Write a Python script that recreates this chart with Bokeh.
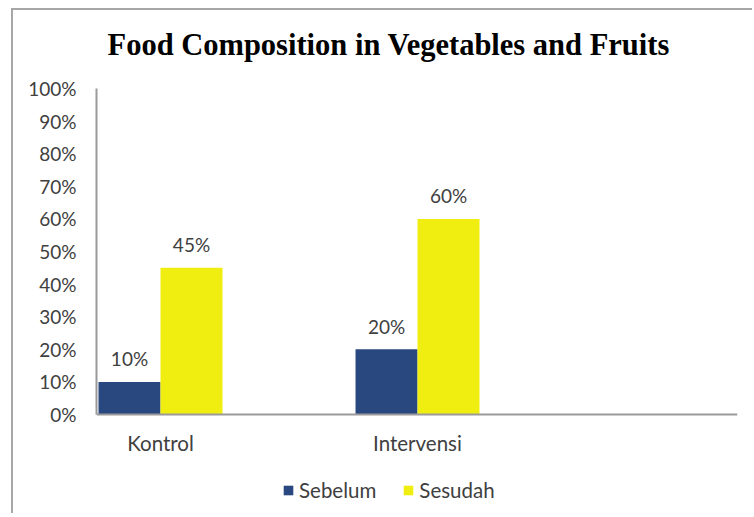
from bokeh.plotting import figure
from bokeh.models import (ColumnDataSource, Legend, LegendItem, FixedTicker,
                          PrintfTickFormatter, Range1d)
from bokeh.core.properties import value
from bokeh.embed import file_html
from bokeh.resources import INLINE

# ---- data ----
categories = ["Kontrol", "Intervensi"]
series_names = ["Sebelum", "Sesudah"]
sebelum = [10, 20]
sesudah = [45, 60]
y_ticks = [0, 10, 20, 30, 40, 50, 60, 70, 80, 90, 100]
title_text = "Food Composition in Vegetables and Fruits"

BLUE = "#28487f"
YELLOW = "#f0ee10"
TXT = "#404040"
FONT = "Lato"

xs = list(range(len(categories)))
bw = 0.2412
off = 0.1206

src_a = ColumnDataSource(dict(x=[x - off for x in xs], top=sebelum,
                              lab=[f"{v}%" for v in sebelum]))
src_b = ColumnDataSource(dict(x=[x + off for x in xs], top=sesudah,
                              lab=[f"{v}%" for v in sesudah]))

# frame extends above 100 and below the 0 line (legend sits inside it);
# the y axis line is bounded to 0..100
p = figure(width=741, height=505, output_backend="svg", toolbar_location=None,
           x_range=Range1d(-0.249, 2.245), y_range=Range1d(-30.98, 106.75),
           min_border_left=83, min_border_right=17, min_border_top=56,
           min_border_bottom=0)
p.styles = {"border-left": "2px solid #a6a6a6", "border-top": "2px solid #a6a6a6",
            "margin-left": "11px", "margin-top": "8px"}
p.outline_line_color = None
p.xgrid.grid_line_color = None
p.ygrid.grid_line_color = None
p.background_fill_color = "white"
p.border_fill_color = "white"

p.title.text = title_text
p.title.align = "left"
p.title.offset = 11
p.title.standoff = 10
p.title.text_font = "Liberation Serif"
p.title.text_font_style = "bold"
p.title.text_font_size = "30.5px"
p.title.text_color = "#000000"

r_a = p.vbar(x="x", top="top", width=bw, bottom=0, source=src_a,
             fill_color=BLUE, line_color=None)
r_b = p.vbar(x="x", top="top", width=bw, bottom=0, source=src_b,
             fill_color=YELLOW, line_color=None)

for src in (src_a, src_b):
    p.text(x="x", y="top", text="lab", source=src, text_align="center",
           text_baseline="middle", y_offset=-23, text_font=value(FONT),
           text_font_size="19px", text_color=TXT)

# axes
p.yaxis.ticker = FixedTicker(ticks=y_ticks)
p.yaxis.formatter = PrintfTickFormatter(format="%d%%")
p.yaxis.bounds = (0, 100)
p.xaxis.ticker = FixedTicker(ticks=xs)
p.xaxis.major_label_overrides = {i: c for i, c in enumerate(categories)}
p.xaxis.fixed_location = 0
for ax in (p.xaxis[0], p.yaxis[0]):
    ax.axis_line_color = "#9a9a9a"
    ax.axis_line_width = 2
    ax.major_tick_line_color = None
    ax.minor_tick_line_color = None
    ax.major_label_text_font = FONT
    ax.major_label_text_color = TXT
p.yaxis.major_label_text_font_size = "19px"
p.xaxis.major_label_text_font_size = "20.5px"
p.yaxis.major_label_standoff = 14
p.xaxis.major_label_standoff = 10

legend = Legend(items=[LegendItem(label=series_names[0], renderers=[r_a]),
                       LegendItem(label=series_names[1], renderers=[r_b])],
                location=(186, 13), orientation="horizontal",
                glyph_width=12, glyph_height=12, label_standoff=5, spacing=26,
                padding=0, margin=0, border_line_color=None,
                background_fill_alpha=0, label_text_font=FONT,
                label_text_font_size="20.5px", label_text_color=TXT)
p.add_layout(legend, "center")

open("out.html", "w").write(file_html(p, INLINE))
